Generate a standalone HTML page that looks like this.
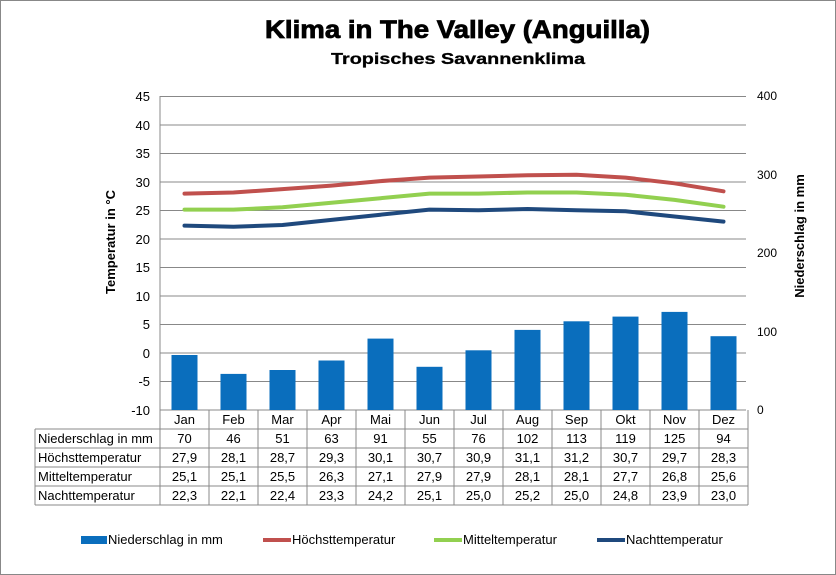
<!DOCTYPE html>
<html><head><meta charset="utf-8"><style>
body{margin:0;background:#fff}
svg{display:block;font-family:"Liberation Sans",Arial,sans-serif}
</style></head><body>
<svg width="836" height="575" viewBox="0 0 836 575">
<rect x="0.5" y="0.5" width="835" height="574" fill="#fff" stroke="#888"/>
<text x="265" y="38" font-size="25" font-weight="bold" stroke="#000" stroke-width="0.8" textLength="385" lengthAdjust="spacingAndGlyphs">Klima in The Valley (Anguilla)</text>
<text x="331" y="64" font-size="16" font-weight="bold" stroke="#000" stroke-width="0.3" textLength="254" lengthAdjust="spacingAndGlyphs">Tropisches Savannenklima</text>
<g stroke="#888" stroke-width="1">
<line x1="160" y1="96.5" x2="746" y2="96.5"/>
<line x1="160" y1="125" x2="746" y2="125"/>
<line x1="160" y1="153.5" x2="746" y2="153.5"/>
<line x1="160" y1="182" x2="746" y2="182"/>
<line x1="160" y1="210.5" x2="746" y2="210.5"/>
<line x1="160" y1="239" x2="746" y2="239"/>
<line x1="160" y1="267.5" x2="746" y2="267.5"/>
<line x1="160" y1="296" x2="746" y2="296"/>
<line x1="160" y1="324.5" x2="746" y2="324.5"/>
<line x1="160" y1="353" x2="746" y2="353"/>
<line x1="160" y1="381.5" x2="746" y2="381.5"/>
<line x1="160" y1="410" x2="746" y2="410"/>
<line x1="160" y1="96" x2="160" y2="410"/>
</g>
<g font-size="13" text-anchor="end" fill="#000">
<text x="150" y="101">45</text><text x="150" y="130">40</text><text x="150" y="158">35</text><text x="150" y="187">30</text><text x="150" y="215">25</text><text x="150" y="244">20</text><text x="150" y="272">15</text><text x="150" y="301">10</text><text x="150" y="329">5</text><text x="150" y="358">0</text><text x="150" y="386">-5</text><text x="150" y="415">-10</text>
</g>
<g font-size="12" fill="#000">
<text x="757" y="100">400</text><text x="757" y="179">300</text><text x="757" y="257">200</text><text x="757" y="336">100</text><text x="757" y="414">0</text>
</g>
<text transform="translate(115,242) rotate(-90)" text-anchor="middle" font-size="13" font-weight="bold">Temperatur in °C</text>
<text transform="translate(804,236) rotate(-90)" text-anchor="middle" font-size="13" font-weight="bold">Niederschlag in mm</text>
<g fill="#0a6ebd">
<rect x="171.5" y="355" width="26" height="55"/>
<rect x="220.5" y="373.9" width="26" height="36.1"/>
<rect x="269.5" y="370" width="26" height="40"/>
<rect x="318.5" y="360.5" width="26" height="49.5"/>
<rect x="367.5" y="338.6" width="26" height="71.4"/>
<rect x="416.5" y="366.8" width="26" height="43.2"/>
<rect x="465.5" y="350.3" width="26" height="59.7"/>
<rect x="514.5" y="329.9" width="26" height="80.1"/>
<rect x="563.5" y="321.3" width="26" height="88.7"/>
<rect x="612.5" y="316.6" width="26" height="93.4"/>
<rect x="661.5" y="311.9" width="26" height="98.1"/>
<rect x="710.5" y="336.2" width="26" height="73.8"/>
</g>
<g fill="none" stroke-width="4" stroke-linejoin="round" stroke-linecap="round">
<polyline stroke="#c0504d" points="184.5,193.6 233.5,192.5 282.5,189.1 331.5,185.6 380.5,181.1 429.5,177.6 478.5,176.5 527.5,175.3 576.5,174.8 625.5,177.6 674.5,183.3 723.5,191.3"/>
<polyline stroke="#92d050" points="184.5,209.6 233.5,209.6 282.5,207.3 331.5,202.8 380.5,198.2 429.5,193.6 478.5,193.6 527.5,192.5 576.5,192.5 625.5,194.7 674.5,199.9 723.5,206.7"/>
<polyline stroke="#1f497d" points="184.5,225.6 233.5,226.7 282.5,225 331.5,219.9 380.5,214.7 429.5,209.6 478.5,210.2 527.5,209 576.5,210.2 625.5,211.3 674.5,216.5 723.5,221.6"/>
</g>
<g stroke="#888" stroke-width="1">
<line x1="35" y1="429" x2="748" y2="429"/>
<line x1="35" y1="448" x2="748" y2="448"/>
<line x1="35" y1="467" x2="748" y2="467"/>
<line x1="35" y1="486" x2="748" y2="486"/>
<line x1="35" y1="505" x2="748" y2="505"/>
<line x1="35" y1="429" x2="35" y2="505"/>
<line x1="160" y1="410" x2="160" y2="505"/>
<line x1="209" y1="410" x2="209" y2="505"/><line x1="258" y1="410" x2="258" y2="505"/><line x1="307" y1="410" x2="307" y2="505"/><line x1="356" y1="410" x2="356" y2="505"/><line x1="405" y1="410" x2="405" y2="505"/><line x1="454" y1="410" x2="454" y2="505"/><line x1="503" y1="410" x2="503" y2="505"/><line x1="552" y1="410" x2="552" y2="505"/><line x1="601" y1="410" x2="601" y2="505"/><line x1="650" y1="410" x2="650" y2="505"/><line x1="699" y1="410" x2="699" y2="505"/><line x1="748" y1="410" x2="748" y2="505"/>
</g>
<g font-size="13" text-anchor="middle">
<text x="184.5" y="424">Jan</text><text x="233.5" y="424">Feb</text><text x="282.5" y="424">Mar</text><text x="331.5" y="424">Apr</text><text x="380.5" y="424">Mai</text><text x="429.5" y="424">Jun</text><text x="478.5" y="424">Jul</text><text x="527.5" y="424">Aug</text><text x="576.5" y="424">Sep</text><text x="625.5" y="424">Okt</text><text x="674.5" y="424">Nov</text><text x="723.5" y="424">Dez</text>
<text x="184.5" y="443">70</text><text x="233.5" y="443">46</text><text x="282.5" y="443">51</text><text x="331.5" y="443">63</text><text x="380.5" y="443">91</text><text x="429.5" y="443">55</text><text x="478.5" y="443">76</text><text x="527.5" y="443">102</text><text x="576.5" y="443">113</text><text x="625.5" y="443">119</text><text x="674.5" y="443">125</text><text x="723.5" y="443">94</text>
<text x="184.5" y="462">27,9</text><text x="233.5" y="462">28,1</text><text x="282.5" y="462">28,7</text><text x="331.5" y="462">29,3</text><text x="380.5" y="462">30,1</text><text x="429.5" y="462">30,7</text><text x="478.5" y="462">30,9</text><text x="527.5" y="462">31,1</text><text x="576.5" y="462">31,2</text><text x="625.5" y="462">30,7</text><text x="674.5" y="462">29,7</text><text x="723.5" y="462">28,3</text>
<text x="184.5" y="481">25,1</text><text x="233.5" y="481">25,1</text><text x="282.5" y="481">25,5</text><text x="331.5" y="481">26,3</text><text x="380.5" y="481">27,1</text><text x="429.5" y="481">27,9</text><text x="478.5" y="481">27,9</text><text x="527.5" y="481">28,1</text><text x="576.5" y="481">28,1</text><text x="625.5" y="481">27,7</text><text x="674.5" y="481">26,8</text><text x="723.5" y="481">25,6</text>
<text x="184.5" y="500">22,3</text><text x="233.5" y="500">22,1</text><text x="282.5" y="500">22,4</text><text x="331.5" y="500">23,3</text><text x="380.5" y="500">24,2</text><text x="429.5" y="500">25,1</text><text x="478.5" y="500">25,0</text><text x="527.5" y="500">25,2</text><text x="576.5" y="500">25,0</text><text x="625.5" y="500">24,8</text><text x="674.5" y="500">23,9</text><text x="723.5" y="500">23,0</text>
</g>
<g font-size="13">
<text x="38" y="443">Niederschlag in mm</text>
<text x="38" y="462">Höchsttemperatur</text>
<text x="38" y="481">Mitteltemperatur</text>
<text x="38" y="500">Nachttemperatur</text>
</g>
<rect x="81" y="536" width="26" height="8" fill="#0a6ebd"/>
<text x="108" y="544" font-size="13">Niederschlag in mm</text>
<line x1="263" y1="540" x2="291" y2="540" stroke="#c0504d" stroke-width="4"/>
<text x="292" y="544" font-size="13">Höchsttemperatur</text>
<line x1="434" y1="540" x2="462" y2="540" stroke="#92d050" stroke-width="4"/>
<text x="463" y="544" font-size="13">Mitteltemperatur</text>
<line x1="597" y1="540" x2="625" y2="540" stroke="#1f497d" stroke-width="4"/>
<text x="626" y="544" font-size="13">Nachttemperatur</text>
</svg>
</body></html>
